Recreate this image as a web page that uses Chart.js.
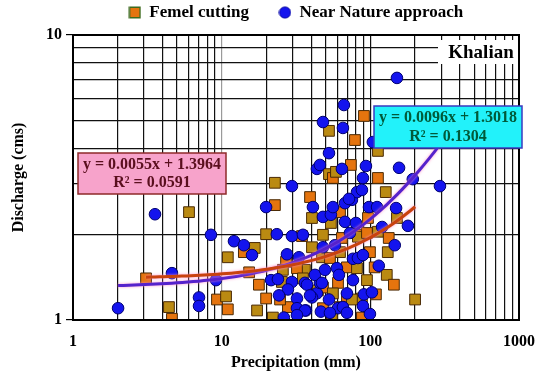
<!DOCTYPE html>
<html><head><meta charset="utf-8">
<script src="https://cdn.jsdelivr.net/npm/chart.js@4.4.1/dist/chart.umd.min.js"></script>
<style>html,body{margin:0;padding:0;background:#fff}#wrap{width:550px;height:376px}</style>
</head><body><div id="wrap"><canvas id="c" width="550" height="376"></canvas></div>
<script>
const seriesNames = ['Femel cutting', 'Near Nature approach'];
const siteLabel = 'Khalian';
const xTitle = 'Precipitation (mm)';
const yTitle = 'Discharge (cms)';
const xTickLabels = [1, 10, 100, 1000];
const yTickLabels = [1, 10];

const femelX = [3.10,4.42,4.63,6.03,9.30,10.7,11.0,11.0,14.1,16.7,15.3,17.3,17.8,19.9,19.9,22.1,22.8,22.8,27.1,25.4,27.9,36.3,39.3,40.5,34.7,48.0,62.5,54.3,96.4,151,85.1,112.5,133,131,99.4,62.5,69.6,81.3,107,129,144,94.9,60.6,44.4,69.6,87.8,109,200,48.0,55.2,87.8,47.3,53.5,25.8,32.1,35.2,48.0,56.0,24.7,75.2,62.5,40.5,64.4,82.5,94.9,127,112.5,52.7,56.0,58.7,74.0,112.5,78.8,52.7,90.6];
const femelY = [1.40,1.11,1.01,2.39,1.18,1.21,1.09,1.66,1.73,1.79,1.47,1.08,1.33,2.00,1.19,1.02,2.53,3.03,1.60,1.36,1.11,1.50,2.70,2.28,1.97,1.99,2.39,2.19,2.28,2.28,1.99,2.04,1.94,1.73,1.73,1.73,1.53,1.52,1.53,1.44,1.33,1.38,1.35,1.27,1.20,1.19,1.23,1.18,1.10,1.02,1.02,1.66,1.65,1.50,1.52,1.40,1.30,1.24,1.18,1.18,1.11,1.80,1.94,1.96,2.02,2.81,3.15,3.25,3.15,3.31,3.50,3.92,4.28,4.61,5.20];

const nearX = [2.01,3.56,4.63,7.04,7.04,8.47,9.16,12.1,14.1,16.0,19.9,23.5,29.7,35.2,29.7,27.5,33.1,21.5,23.9,29.7,27.9,24.3,32.1,32.1,36.9,26.2,36.3,41.1,43.7,45.8,42.4,49.5,59.6,61.5,47.3,37.5,40.5,52.7,46.5,36.3,60.6,65.4,69.6,89.2,99.4,90.6,102.5,76.4,114,76.4,82.5,89.2,48.0,57.8,72.9,146,120,179,48.0,54.3,67.5,80.0,56.0,67.5,75.2,97.9,111,149,81.3,87.8,71.8,89.2,193,294,43.7,45.8,64.4,93.4,156,52.7,104,65.4,48.0,66.4,151,53.5,69.6,39.3,32.1];
const nearY = [1.10,2.35,1.46,1.20,1.12,1.99,1.38,1.89,1.83,1.69,2.49,2.00,1.97,1.99,2.95,1.70,1.66,1.38,1.39,1.36,1.28,1.22,1.19,1.10,1.08,1.02,1.35,2.49,1.24,1.35,1.44,1.50,1.52,1.44,1.35,1.33,1.20,1.18,1.07,1.08,1.10,1.11,1.06,1.12,1.05,1.23,1.25,1.38,1.55,1.64,1.65,1.69,1.80,1.83,2.02,1.83,2.12,2.14,2.30,2.34,2.21,2.19,2.49,2.57,2.64,2.49,2.49,2.47,2.81,2.86,2.66,3.15,3.12,2.95,3.39,3.50,3.39,3.47,3.42,3.85,4.21,4.72,4.95,5.68,7.07,1.06,1.24,1.22,1.04];

// trend line coefficients as printed on the chart: [slope, intercept]
const femelFit = [0.0055, 1.3964];
const nearFit = [0.0096, 1.3018];
const femelEq = ['y = 0.0055x + 1.3964', 'R² = 0.0591'];
const nearEq = ['y = 0.0096x + 1.3018', 'R² = 0.1304'];

const FONT = "'Liberation Serif', 'Times New Roman', serif";

function trendPoints(xs, fit) {
  const lo = Math.log10(Math.min(...xs)), hi = Math.log10(Math.max(...xs));
  const pts = [];
  for (let k = 0; k <= 60; k++) {
    const x = Math.pow(10, lo + (hi - lo) * k / 60);
    pts.push({x, y: fit[0] * x + fit[1]});
  }
  return pts;
}
// log grid: 1..9 in each decade between min and max
function logGrid(min, max) {
  const out = [];
  for (let d = min; d < max; d *= 10) for (let m = 1; m < 10; m++) out.push(m * d);
  out.push(max);
  return out;
}
const isPow10 = v => Math.abs(Math.log10(v) - Math.round(Math.log10(v))) < 1e-9;

function markerCanvas(kind) {
  const c = document.createElement('canvas');
  c.width = 13; c.height = 13;
  const g = c.getContext('2d');
  if (kind === 'rect') {
    g.fillStyle = '#E5740E'; g.fillRect(1, 1, 11, 11);
    g.strokeStyle = '#3E6B1E'; g.lineWidth = 1.5; g.strokeRect(1.25, 1.25, 10.5, 10.5);
  } else {
    g.beginPath(); g.arc(6.5, 6.5, 5.6, 0, Math.PI * 2);
    g.fillStyle = '#1414EE'; g.fill();
    g.strokeStyle = '#0000A0'; g.lineWidth = 1; g.stroke();
  }
  return c;
}
const legendMarks = [markerCanvas('rect'), markerCanvas('circle')];

const overlay = {
  id: 'overlay',
  beforeInit(chart) {
    const lg = chart.legend;
    if (lg) {
      const fit = lg.fit;
      lg.fit = function () { fit.call(this); this.height = 35; };
    }
  },
  afterLayout(chart) {
    if (chart.legend) chart.legend.top = -26;
  },
  beforeDatasetDraw(chart, args) {
    if (args.index >= 2) {
      const ctx = chart.ctx;
      ctx.save();
      ctx.shadowColor = 'rgba(255,140,200,0.9)';
      ctx.shadowBlur = 3;
    }
  },
  afterDatasetDraw(chart, args) {
    if (args.index >= 2) chart.ctx.restore();
  },
  afterDraw(chart) {
    const ctx = chart.ctx, ca = chart.chartArea;
    ctx.save();
    ctx.strokeStyle = '#000'; ctx.lineWidth = 2;
    ctx.strokeRect(ca.left, ca.top, ca.right - ca.left, ca.bottom - ca.top);

    ctx.font = 'bold 16px ' + FONT;
    ctx.textAlign = 'center'; ctx.textBaseline = 'middle';
    let bx = ca.left + 5, by = ca.top + 118, bw = 148, bh = 41;
    ctx.fillStyle = '#F7A3CB'; ctx.fillRect(bx, by, bw, bh);
    ctx.strokeStyle = '#8E2A2A'; ctx.lineWidth = 1.5; ctx.strokeRect(bx, by, bw, bh);
    ctx.fillStyle = '#5A0F1E';
    ctx.fillText(femelEq[0], bx + bw / 2, by + 12);
    ctx.fillText(femelEq[1], bx + bw / 2, by + 30);
    bx = ca.left + 301; by = ca.top + 71; bw = 148; bh = 42;
    ctx.fillStyle = '#22F2FA'; ctx.fillRect(bx, by, bw, bh);
    ctx.strokeStyle = '#3A3AC0'; ctx.lineWidth = 1.5; ctx.strokeRect(bx, by, bw, bh);
    ctx.fillStyle = '#005A3A';
    ctx.fillText(nearEq[0], bx + bw / 2, by + 12);
    ctx.fillText(nearEq[1], bx + bw / 2, by + 31);
    ctx.fillStyle = '#fff';
    ctx.fillRect(ca.right - 81, ca.top + 5, 80, 24);
    ctx.fillStyle = '#000';
    ctx.font = 'bold 19px ' + FONT;
    ctx.fillText(siteLabel, ca.right - 38, ca.top + 18);
    ctx.restore();
  }
};

const data = {
  datasets: [
    {
      label: seriesNames[0],
      data: femelX.map((x, i) => ({x, y: femelY[i]})),
      pointStyle: 'rect', pointRadius: 7.6, pointHoverRadius: 7.6,
      backgroundColor: c => (c.dataIndex % 2 ? '#BA8A12' : '#E5740E'),
      borderColor: '#4A2A05', borderWidth: 1, order: 3
    },
    {
      label: seriesNames[1],
      data: nearX.map((x, i) => ({x, y: nearY[i]})),
      pointStyle: 'circle', pointRadius: 5.8, pointHoverRadius: 5.8,
      backgroundColor: '#1414EE', borderColor: '#000070', borderWidth: 1, order: 2
    },
    {
      label: 'femelTrend', data: trendPoints(femelX, femelFit), showLine: true,
      pointRadius: 0, borderColor: '#C8420E', borderWidth: 3, order: 1, tension: 0
    },
    {
      label: 'nearTrend', data: trendPoints(nearX, nearFit), showLine: true,
      pointRadius: 0, borderColor: '#5522CC', borderWidth: 3, order: 1, tension: 0
    }
  ]
};

new Chart(document.getElementById('c'), {
  type: 'scatter',
  data,
  plugins: [overlay],
  options: {
    responsive: false, animation: false, events: [],
    layout: {padding: {left: 0, right: 31, top: 0, bottom: 0}},
    plugins: {
      tooltip: {enabled: false},
      legend: {
        display: true, position: 'top', fullSize: false,
        labels: {
          usePointStyle: true, boxWidth: 12, boxHeight: 12, padding: 30,
          font: {family: FONT, size: 17, weight: 'bold'}, color: '#000',
          generateLabels: () => [
            {text: seriesNames[0], pointStyle: legendMarks[0], datasetIndex: 0, fontColor: '#000', hidden: false, lineWidth: 0},
            {text: seriesNames[1], pointStyle: legendMarks[1], datasetIndex: 1, fontColor: '#000', hidden: false, lineWidth: 0}
          ]
        }
      }
    },
    scales: {
      x: {
        type: 'logarithmic', min: 1, max: 1000, position: 'bottom',
        afterFit: s => { s.height = 56; },
        afterBuildTicks: s => { s.ticks = logGrid(1, 1000).map(v => ({value: v})); },
        border: {color: '#000', width: 2},
        grid: {
          color: c => (c.tick && c.tick.value === 10 ? '#9a9a9a' : '#111'),
          lineWidth: 1.2, tickLength: 8, tickColor: 'rgba(0,0,0,0)'
        },
        ticks: {
          autoSkip: false, maxRotation: 0, padding: 4, color: '#000',
          font: {family: FONT, size: 16, weight: 'bold'},
          callback: v => (isPow10(v) && xTickLabels.includes(Math.round(v)) ? String(Math.round(v)) : '')
        },
        title: {display: true, text: xTitle, color: '#000', font: {family: FONT, size: 16, weight: 'bold'}, padding: {top: 0, bottom: 4}}
      },
      y: {
        type: 'logarithmic', min: 1, max: 10, position: 'left',
        afterFit: s => { s.width = 73; },
        afterBuildTicks: s => { s.ticks = logGrid(1, 10).map(v => ({value: v})); },
        border: {color: '#000', width: 2},
        grid: {
          color: '#111', lineWidth: 1.2, tickLength: 7,
          tickColor: c => (c.tick && isPow10(c.tick.value) ? '#000' : 'rgba(0,0,0,0)')
        },
        ticks: {
          autoSkip: false, padding: 4, color: '#000',
          font: {family: FONT, size: 16, weight: 'bold'},
          callback: v => (isPow10(v) && yTickLabels.includes(Math.round(v)) ? String(Math.round(v)) : '')
        },
        title: {display: true, text: yTitle, color: '#000', font: {family: FONT, size: 16, weight: 'bold'}, padding: {top: 9, bottom: 0}}
      }
    }
  }
});
</script></body></html>
